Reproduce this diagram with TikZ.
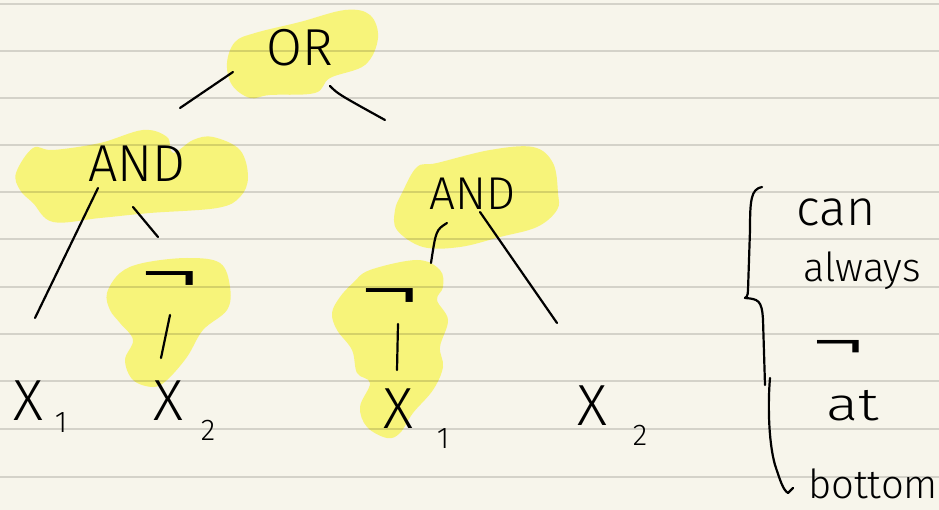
\documentclass[tikz,border=0pt]{standalone}
\usepackage{fontspec}
\newfontfamily\hand{Fira Sans}[UprightFont={* Light}]
\definecolor{paper}{HTML}{F7F5EB}
\definecolor{hl}{HTML}{F7F47A}
\newcommand{\wideneg}{\scalebox{1.75}[1.05]{¬}}
\begin{document}
\begin{tikzpicture}[x=1pt,y=-1pt,
  ink/.style={line width=2.2pt, line cap=round, line join=round, black},
  hlblob/.style={fill=hl, draw=none},
  lbl/.style={inner sep=0pt, anchor=base, text=black},
  big/.style={font=\hand\fontsize{52}{56}\selectfont},
  mid/.style={font=\hand\fontsize{46}{50}\selectfont},
  xs/.style={font=\hand\fontsize{58}{62}\selectfont},
  sub/.style={font=\hand\fontsize{30}{34}\selectfont},
  negs/.style={font=\hand\fontsize{74}{78}\selectfont, inner sep=0pt},
  note/.style={font=\hand\fontsize{40}{44}\selectfont},
]
\fill[paper] (0,0) rectangle (939,510);
\useasboundingbox (0,0) rectangle (939,510);

% highlighter blobs
\fill[hlblob] plot[smooth cycle, tension=0.6] coordinates {(227,63) (235,42) (255,33) (300,22) (345,10) (370,15) (378,38) (365,65) (330,78) (315,93) (270,95) (250,98) (232,85)};
\fill[hlblob] plot[smooth cycle, tension=0.6] coordinates {(16,173) (33,148) (53,150) (100,143) (143,130) (167,137) (173,153) (193,140) (213,137) (240,150) (248,177) (240,197) (217,208) (150,213) (100,218) (53,222) (33,203) (20,190)};
\fill[hlblob] plot[smooth cycle, tension=0.6] coordinates {(402,193) (417,167) (437,163) (490,150) (533,147) (553,163) (558,193) (557,210) (537,227) (500,237) (460,247) (423,247) (397,230) (395,210)};
\fill[hlblob] plot[smooth cycle, tension=0.6] coordinates {(107,293) (120,273) (143,263) (187,258) (220,263) (230,287) (227,310) (203,330) (187,357) (167,380) (153,387) (133,380) (125,360) (133,340) (120,323) (110,310)};
\fill[hlblob] plot[smooth cycle, tension=0.6] coordinates {(340,297) (353,283) (370,270) (417,260) (440,270) (443,287) (437,300) (448,320) (440,347) (443,367) (433,390) (413,413) (400,433) (387,438) (367,427) (360,407) (370,383) (357,373) (352,350) (337,330) (332,313)};

% ruled lines
\foreach \y in {4,51.5,98.5,145.5,192.5,239.5,287,334,381,429,477}
  \draw[black, opacity=0.14, line width=2pt] (0,\y) -- (939,\y);

% tree nodes
\node[lbl, big] (or) at (300,66) {OR};
\node[lbl, big] (andL) at (137,182) {AND};
\node[lbl, mid] (andR) at (473,210) {AND};
\node[negs] (negL) at (170,285) {\wideneg};
\node[negs] (negR) at (390,302) {\wideneg};
\node[lbl, xs] (x1L) at (28,420) {X};
\node[lbl, sub] (x1Ls) at (61,432) {1};
\node[lbl, xs] (x2L) at (168,420) {X};
\node[lbl, sub] (x2Ls) at (208,440) {2};
\node[lbl, xs] (x1R) at (398,428) {X};
\node[lbl, sub] (x1Rs) at (443,448) {1};
\node[lbl, xs] (x2R) at (592,425) {X};
\node[lbl, sub] (x2Rs) at (640,445) {2};

% connector ends
\coordinate (orA) at (233,72);  \coordinate (andLa) at (180,108);
\coordinate (orB) at (330,86);  \coordinate (andRa) at (385,120);
\coordinate (andLb) at (98,188); \coordinate (x1La) at (35,318);
\coordinate (andLc) at (133,207); \coordinate (negLa) at (158,237);
\coordinate (negLb) at (170,315); \coordinate (x2La) at (161,358);
\coordinate (andRb) at (447,223); \coordinate (negRa) at (431,263);
\coordinate (andRc) at (480,212); \coordinate (x2Ra) at (557,323);
\coordinate (negRb) at (398,324); \coordinate (x1Ra) at (397,370);

\draw[ink] (orA) -- (andLa);
\draw[ink] (orB) .. controls (338,94) .. (andRa);
\draw[ink] (andLb) -- (x1La);
\draw[ink] (andLc) -- (negLa);
\draw[ink] (negLb) -- (x2La);
\draw[ink] (andRb) .. controls (436,230) .. (negRa);
\draw[ink] (andRc) -- (x2Ra);
\draw[ink] (negRb) -- (x1Ra);

% brace and arrow
\draw[ink] (762,187) .. controls (751,189) and (750,200) .. (750,230)
  -- (748,290) .. controls (748,296) and (746,298) .. (745,298)
  .. controls (758,299) and (762,300) .. (763,320) -- (765,385);
\draw[ink] (770,378) .. controls (768,400) and (768,440) .. (775,465)
  .. controls (780,480) and (783,490) .. (788,493) -- (793,488);

% side note
\node[lbl, note, font=\hand\fontsize{50}{54}\selectfont] (can) at (836,226) {can};
\node[lbl, note] (always) at (862,282) {always};
\node[negs, font=\hand\fontsize{66}{70}\selectfont] (negN) at (838,352) {\wideneg};
\node[lbl, note, font=\hand\fontsize{46}{50}\selectfont] (at) at (853,420) {\scalebox{1.3}[1]{at}};
\node[lbl, note, anchor=base west] (bottom) at (808,498) {bottom};
\end{tikzpicture}
\end{document}
